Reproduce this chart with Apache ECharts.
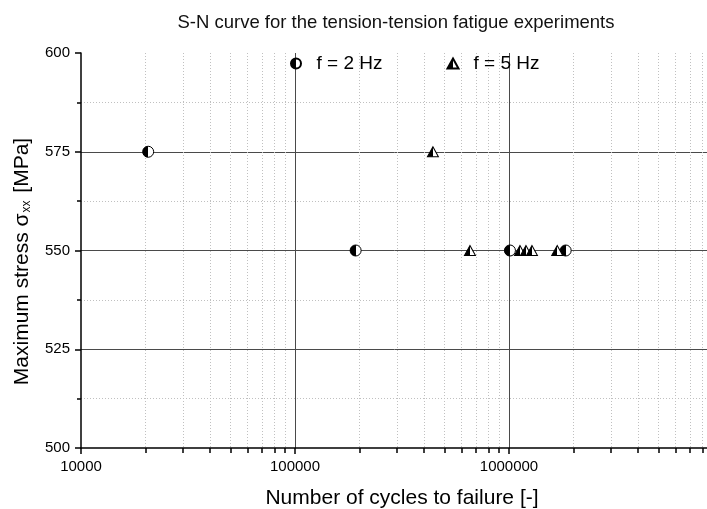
<!DOCTYPE html>
<html>
<head>
<meta charset="utf-8">
<script src="https://cdn.jsdelivr.net/npm/echarts@6/dist/echarts.min.js"></script>
<style>html,body{margin:0;padding:0;background:#fff}#c{width:707px;height:509px}</style>
</head>
<body>
<div id="c"></div>
<script>
const titleText = 'S-N curve for the tension-tension fatigue experiments';
const seriesNames = ['f = 2 Hz', 'f = 5 Hz'];
const cycles2Hz = [20600, 192000, 1010000, 1840000];
const stress2Hz = [575, 550, 550, 550];
const cycles5Hz = [441000, 657000, 1125000, 1200000, 1280000, 1680000];
const stress5Hz = [575, 550, 550, 550, 550, 550];
const yTicks = [500, 525, 550, 575, 600];
const xDecades = [10000, 100000, 1000000, 10000000];

// minor log ticks 2..9 in each decade
const minorX = [];
for (let i = 0; i < xDecades.length - 1; i++) {
  for (let k = 2; k <= 9; k++) minorX.push(xDecades[i] * k);
}

const halfFill = {
  type: 'linear', x: 0, y: 0, x2: 1, y2: 0,
  colorStops: [
    {offset: 0, color: '#000'}, {offset: 0.5, color: '#000'},
    {offset: 0.5, color: '#fff'}, {offset: 1, color: '#fff'}
  ]
};
const FONT = 'Liberation Sans, Arial, sans-serif';

const chart = echarts.init(document.getElementById('c'), null, {renderer: 'canvas'});
chart.setOption({
  animation: false,
  backgroundColor: '#fff',
  textStyle: {fontFamily: FONT},
  title: {
    text: titleText, left: 391, top: 8, textAlign: 'center',
    textStyle: {fontSize: 18.5, fontWeight: 'normal', color: '#111', fontFamily: FONT}
  },
  legend: {
    data: seriesNames, left: 285, top: 49, itemGap: 64, itemWidth: 11, itemHeight: 10,
    textStyle: {fontSize: 19, color: '#000', fontFamily: FONT, padding: [0, 0, 0, 10]}
  },
  grid: {left: 81, width: 642, top: 53, height: 395, containLabel: false, outerBoundsMode: 'none'},
  xAxis: [{
    type: 'log', logBase: 10, min: xDecades[0], max: xDecades[xDecades.length - 1],
    name: 'Number of cycles to failure [-]', nameLocation: 'middle', nameGap: 40,
    nameTextStyle: {fontSize: 21, color: '#000', fontFamily: FONT},
    axisLine: {show: true, onZero: false, lineStyle: {color: '#000', width: 1.5}},
    axisTick: {show: true, inside: false, length: 6, lineStyle: {color: '#000', width: 1.5}},
    axisLabel: {fontSize: 15, color: '#000', margin: 11, showMaxLabel: false, formatter: v => String(Math.round(v))},
    splitLine: {show: true, showMinLine: false, lineStyle: {color: '#4a4a4a', width: 1}},
    minorTick: {show: false}
  }, {
    type: 'log', logBase: 10, min: xDecades[0], max: xDecades[xDecades.length - 1],
    position: 'bottom', gridIndex: 0,
    axisLine: {show: false},
    axisLabel: {show: false},
    axisTick: {show: true, inside: false, length: 5, customValues: minorX, lineStyle: {color: '#000', width: 1.5}},
    splitLine: {show: true, lineStyle: {color: '#c0c0c0', width: 1, type: [1, 2]}}
  }],
  yAxis: {
    type: 'value', min: yTicks[0], max: yTicks[yTicks.length - 1], interval: 25,
    name: '{a|Maximum stress σ}{s|xx}{a| [MPa]}', nameLocation: 'middle', nameGap: 46, nameRotate: 90,
    nameTextStyle: {
      fontFamily: FONT, color: '#000', padding: [0, 22, 0, 0],
      rich: {
        a: {fontSize: 21, fontFamily: FONT, color: '#000', lineHeight: 26},
        s: {fontSize: 12, fontFamily: FONT, color: '#000', lineHeight: 26, padding: [10, 2, 0, 1]}
      }
    },
    axisLine: {show: true, lineStyle: {color: '#000', width: 1.5}},
    axisTick: {show: true, inside: false, length: 6, lineStyle: {color: '#000', width: 1.5}},
    minorTick: {show: true, splitNumber: 2, length: 4, lineStyle: {color: '#000', width: 1.5}},
    axisLabel: {fontSize: 15, color: '#000', margin: 11, formatter: v => String(v)},
    splitLine: {show: true, showMinLine: false, showMaxLine: false, lineStyle: {color: '#4a4a4a', width: 1}},
    minorSplitLine: {show: true, lineStyle: {color: '#c0c0c0', width: 1, type: [1, 2]}}
  },
  series: [{
    name: seriesNames[0], type: 'scatter', xAxisIndex: 0,
    symbol: 'circle', symbolSize: 11,
    itemStyle: {color: halfFill, borderColor: '#000', borderWidth: 1, opacity: 1},
    data: cycles2Hz.map((c, i) => [c, stress2Hz[i]]), z: 10
  }, {
    name: seriesNames[1], type: 'scatter', xAxisIndex: 0,
    symbol: 'triangle', symbolSize: [11, 10],
    itemStyle: {color: halfFill, borderColor: '#000', borderWidth: 1, opacity: 1},
    data: cycles5Hz.map((c, i) => [c, stress5Hz[i]]), z: 10
  }]
});
</script>
</body>
</html>
